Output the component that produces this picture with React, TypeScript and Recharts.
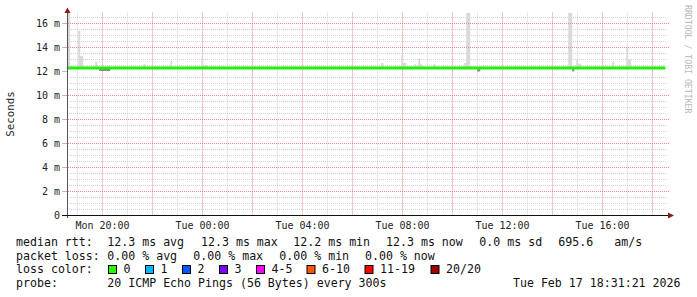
import React from "react";
import { ComposedChart, Area, Line, XAxis, YAxis, CartesianGrid } from "recharts";

// time in hours since Mon 00:00 (24 = Tue 00:00)
const smokeTimes = [
  18.58, 18.71, 19.03, 19.11, 19.23, 19.71, 19.79, 19.87, 20.31, 21.63, 21.71,
  22.71, 22.79, 23.95, 24.03, 24.19, 31.15, 31.23, 31.95, 32.03, 32.15, 32.47,
  32.55, 32.63, 32.71, 32.79, 33.23, 33.31, 34.47, 34.55, 34.71, 34.99, 35.11,
  38.63, 38.79, 38.87, 38.95, 39.03, 39.15, 40.39, 40.47, 40.95, 41.03, 41.15,
  42.51,
];
// ms
const smokeHigh = [
  16.9, 12.4, 15.4, 13.3, 12.4, 12.8, 12.4, 12.4, 12.4, 12.6, 12.4,
  12.9, 12.4, 13.1, 12.55, 12.4, 12.7, 12.4, 13.35, 12.7, 12.4, 12.6,
  12.4, 13.1, 12.6, 12.4, 12.6, 12.4, 12.7, 16.9, 12.4, 12.4, 12.4,
  16.9, 12.4, 12.4, 13.0, 12.65, 12.4, 12.85, 12.4, 14.0, 13.0, 12.4,
  12.4,
];
const smokeLow = [
  12.2, 12.2, 12.2, 12.2, 12.2, 12.2, 12.2, 12.05, 12.2, 12.2, 12.2,
  12.2, 12.2, 12.2, 12.2, 12.2, 12.2, 12.2, 12.2, 12.2, 12.2, 12.2,
  12.2, 12.2, 12.2, 12.2, 12.2, 12.2, 12.2, 12.2, 12.2, 12.0, 12.2,
  12.2, 12.0, 12.2, 12.2, 12.2, 12.2, 12.2, 12.2, 12.2, 12.2, 12.2,
  12.2,
];
const medianRtt = [
  12.3, 12.3, 12.3, 12.3, 12.3, 12.3, 12.3, 12.3, 12.3, 12.3, 12.3,
  12.3, 12.3, 12.3, 12.3, 12.3, 12.3, 12.3, 12.3, 12.3, 12.3, 12.3,
  12.3, 12.3, 12.3, 12.3, 12.3, 12.3, 12.3, 12.3, 12.3, 12.3, 12.3,
  12.3, 12.3, 12.3, 12.3, 12.3, 12.3, 12.3, 12.3, 12.3, 12.3, 12.3,
  12.3,
];

const xDomain = [18.58, 42.58];
const yDomain = [0, 16.9167];
const xLabelTicks = [20, 24, 28, 32, 36, 40];
const xMinorGrid = [19, 21, 23, 25, 27, 29, 31, 33, 35, 37, 39, 41];
const xMajorGrid = [20, 22, 24, 26, 28, 30, 32, 34, 36, 38, 40, 42];
const yLabelTicks = [0, 2, 4, 6, 8, 10, 12, 14, 16];
const yMajorGrid = [2, 4, 6, 8, 10, 12, 14, 16];
const yMinorGrid = [
  0.5, 1, 1.5, 2.5, 3, 3.5, 4.5, 5, 5.5, 6.5, 7, 7.5, 8.5, 9, 9.5, 10.5, 11,
  11.5, 12.5, 13, 13.5, 14.5, 15, 15.5, 16.5,
];

const rttStats = ["12.3 ms avg", "12.3 ms max", "12.2 ms min", "12.3 ms now", "0.0 ms sd", "695.6", "am/s"];
const rttX = [107.3, 201, 293.3, 386, 479.3, 558.3, 614.3];
const lossStats = ["0.00 % avg", "0.00 % max", "0.00 % min", "0.00 % now"];
const lossX = [107.3, 193.3, 279.3, 365];
const lossLabels = ["0", "1", "2", "3", "4-5", "6-10", "11-19", "20/20"];
const lossColors = ["#26ff00", "#00b8ff", "#0059ff", "#7e00ff", "#ff00ff", "#ff5500", "#ff0000", "#a00000"];
const lossBoxX = [108.5, 145.5, 182.5, 219.5, 256.5, 307, 365, 431];

const rows = smokeTimes.map((t, i) => ({
  t,
  up: [medianRtt[i], smokeHigh[i]],
  down: [smokeLow[i], medianRtt[i]],
  median: medianRtt[i],
}));

const MONO = "DejaVu Sans Mono";
const MAJOR = "#e68a8a";
const MINOR = "#d2d2d2";

// plot box (same numbers as the chart margins / axis sizes)
const PLOT = { left: 67, top: 12.5, width: 600, height: 203 };
const yPx = (v: number) => PLOT.top + PLOT.height * (1 - (v - yDomain[0]) / (yDomain[1] - yDomain[0]));

const fmtTime = (v: number) => {
  const day = v < 24 ? "Mon" : "Tue";
  const h = v % 24;
  return `${day} ${String(h).padStart(2, "0")}:00`;
};

const majorX = new Set<number>();
const gridY = (p: any) => {
  const o = p.offset;
  return yMinorGrid.map((v) => o.top + o.height * (1 - (v - yDomain[0]) / (yDomain[1] - yDomain[0])));
};
const gridX = (p: any) => {
  const o = p.offset;
  const toPx = (v: number) => o.left + (o.width * (v - xDomain[0])) / (xDomain[1] - xDomain[0]);
  xMajorGrid.forEach((v) => majorX.add(Math.round(toPx(v))));
  return [...xMinorGrid, ...xMajorGrid].map(toPx);
};
const vLine = (lp: any) => {
  const x = Number(lp.x1 ?? lp.x);
  const major = majorX.has(Math.round(x));
  return (
    <line
      key={lp.key}
      x1={x}
      y1={lp.y1}
      x2={x}
      y2={lp.y2}
      stroke={major ? MAJOR : MINOR}
      strokeDasharray="1 1"
      fill="none"
    />
  );
};

export default function App() {
  return (
    <div
      style={{
        position: "absolute",
        left: 0,
        top: 0,
        width: 697,
        height: 297,
        background: "#fff",
      }}
    >
      <ComposedChart
        width={697}
        height={297}
        data={rows}
        margin={{ top: 12.5, right: 30, left: 7, bottom: 61.5 }}
      >
        <CartesianGrid
          stroke={MINOR}
          strokeDasharray="1 1"
          vertical={vLine}
          horizontalCoordinatesGenerator={gridY}
          verticalCoordinatesGenerator={gridX}
        />
        <XAxis
          dataKey="t"
          type="number"
          domain={xDomain}
          ticks={xLabelTicks}
          tickFormatter={fmtTime}
          axisLine={false}
          tickLine={false}
          tickSize={4}
          tickMargin={2}
          height={20}
          tick={{ fontFamily: MONO, fontSize: 10, fill: "#222" }}
          allowDataOverflow
        />
        <YAxis
          type="number"
          domain={yDomain}
          ticks={yLabelTicks}
          tickFormatter={(v: number) => (v === 0 ? "0" : `${v} m`)}
          axisLine={false}
          tickLine={{ stroke: "#bbb" }}
          tickSize={5}
          tickMargin={2}
          width={60}
          tick={{ fontFamily: MONO, fontSize: 10, fill: "#222" }}
          allowDataOverflow
        />
        <Area
          type="stepAfter"
          dataKey="up"
          fill="#d9d9d9"
          fillOpacity={1}
          stroke="none"
          isAnimationActive={false}
        />
        <Area
          type="stepAfter"
          dataKey="down"
          fill="#8a8a8a"
          fillOpacity={1}
          stroke="none"
          isAnimationActive={false}
        />
        <Line
          type="stepAfter"
          dataKey="median"
          stroke="#22f000"
          strokeWidth={3}
          dot={false}
          isAnimationActive={false}
        />
      </ComposedChart>
      <svg
        width={697}
        height={297}
        style={{ position: "absolute", left: 0, top: 0, pointerEvents: "none" }}
      >
        {yMajorGrid
          .filter((v) => v !== 12)
          .map((v) => (
            <line
              key={"my" + v}
              x1={PLOT.left + 1}
              x2={PLOT.left + PLOT.width + 2}
              y1={yPx(v)}
              y2={yPx(v)}
              stroke={MAJOR}
              strokeWidth={1}
              strokeDasharray="1 1"
            />
          ))}
        <line x1={67.5} y1={11} x2={67.5} y2={218} stroke="#555" />
        <line x1={62} y1={215.5} x2={669} y2={215.5} stroke="#111" />
        <polygon points="64.5,13 70.5,13 67.5,7.5" fill="#8b1a1a" />
        <polygon points="668,212.5 668,218.5 674,215.5" fill="#8b1a1a" />
        <text
          transform="translate(14,114) rotate(-90)"
          textAnchor="middle"
          fontFamily={MONO}
          fontSize={10.8}
          fill="#222"
        >
          Seconds
        </text>
        <text
          transform="translate(685,5) rotate(90)"
          fontFamily={MONO}
          fontSize={8.2}
          fill="#b8b8b8"
        >
          RRDTOOL / TOBI OETIKER
        </text>
        <g fontFamily={MONO} fontSize={11.6} fill="#111" style={{ whiteSpace: "pre" }}>
          <text x={16} y={246}>median rtt:</text>
          {rttStats.map((s, i) => (
            <text key={"r" + i} x={rttX[i]} y={246}>{s}</text>
          ))}
          <text x={16} y={259.5}>packet loss:</text>
          {lossStats.map((s, i) => (
            <text key={"l" + i} x={lossX[i]} y={259.5}>{s}</text>
          ))}
          <text x={16} y={273.3}>loss color:</text>
          {lossLabels.map((s, i) => (
            <g key={"c" + i}>
              <rect x={lossBoxX[i]} y={265.5} width={8} height={8} fill={lossColors[i]} stroke="#000" />
              <text x={lossBoxX[i] + 15} y={273.3}>{s}</text>
            </g>
          ))}
          <text x={16} y={286.8}>probe:</text>
          <text x={107.3} y={286.8}>20 ICMP Echo Pings (56 Bytes) every 300s</text>
          <text x={680.5} y={286.8} textAnchor="end">Tue Feb 17 18:31:21 2026</text>
        </g>
      </svg>
    </div>
  );
}
